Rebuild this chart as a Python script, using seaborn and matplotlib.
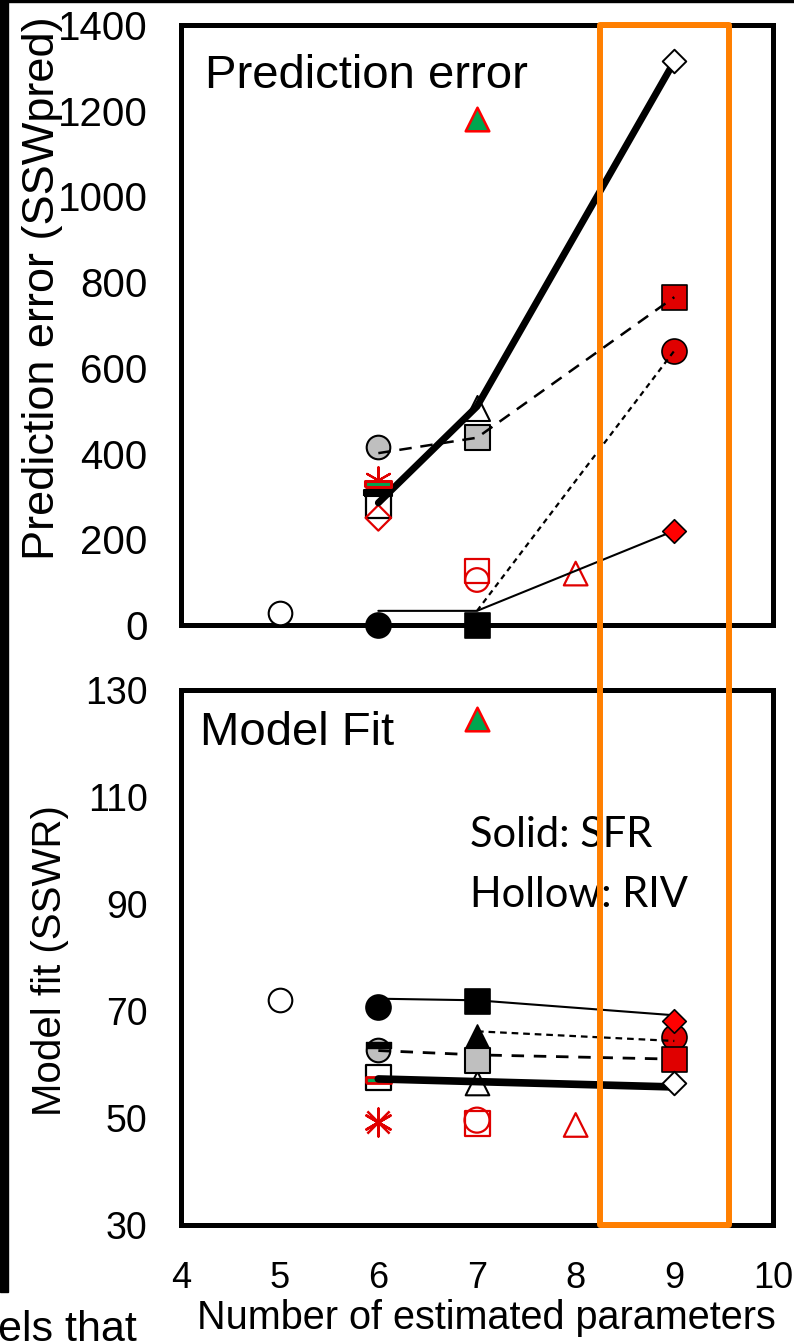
import seaborn as sns
import matplotlib.pyplot as plt
from matplotlib import transforms
from matplotlib.patches import Rectangle

# ---------------- data ----------------
# upper panel: prediction error (SSWpred)
pe_open_circle_x, pe_open_circle_y = [5], [28]
pe_black_circle_x, pe_black_circle_y = [6], [0]
pe_gray_circle_x, pe_gray_circle_y = [6], [415]
pe_red_star_x, pe_red_star_y = [6], [338]
pe_green_bar_x, pe_green_bar_y = [6], [329]
pe_black_bar_x, pe_black_bar_y = [6], [308]
pe_open_square_x, pe_open_square_y = [6], [280]
pe_red_open_diamond_x, pe_red_open_diamond_y = [6], [250]
pe_open_triangle_x, pe_open_triangle_y = [7], [507]
pe_gray_square_x, pe_gray_square_y = [7], [439]
pe_red_open_square_x, pe_red_open_square_y = [7], [126]
pe_red_open_circle_x, pe_red_open_circle_y = [7], [105]
pe_black_square_x, pe_black_square_y = [7], [0]
pe_green_triangle_x, pe_green_triangle_y = [7], [1180]
pe_red_open_triangle_x, pe_red_open_triangle_y = [8], [120]
pe_red_square_x, pe_red_square_y = [9], [765]
pe_red_circle_x, pe_red_circle_y = [9], [640]
pe_red_diamond_x, pe_red_diamond_y = [9], [220]
pe_open_diamond_x, pe_open_diamond_y = [9], [1315]

pe_thick_x, pe_thick_y = [6, 7, 9], [285, 510, 1315]
pe_dash_x, pe_dash_y = [6, 7, 9], [401, 437, 765]
pe_dot_x, pe_dot_y = [7, 9], [33, 640]
pe_thin_x, pe_thin_y = [6, 7, 9], [33, 33, 220]

# lower panel: model fit (SSWR)
mf_open_circle_x, mf_open_circle_y = [5], [72]
mf_black_circle_x, mf_black_circle_y = [6], [70.8]
mf_gray_circle_x, mf_gray_circle_y = [6], [62.7]
mf_black_bar_x, mf_black_bar_y = [6], [63.6]
mf_open_square_x, mf_open_square_y = [6], [57.6]
mf_green_bar_x, mf_green_bar_y = [6], [57.1]
mf_red_cross_x, mf_red_cross_y = [6], [49.2]
mf_black_square_x, mf_black_square_y = [7], [71.8]
mf_black_triangle_x, mf_black_triangle_y = [7], [65.2]
mf_gray_square_x, mf_gray_square_y = [7], [60.9]
mf_open_triangle_x, mf_open_triangle_y = [7], [56.6]
mf_red_open_square_x, mf_red_open_square_y = [7], [49.0]
mf_red_open_circle_x, mf_red_open_circle_y = [7], [49.6]
mf_green_triangle_x, mf_green_triangle_y = [7], [124.5]
mf_red_open_triangle_x, mf_red_open_triangle_y = [8], [48.7]
mf_red_diamond_x, mf_red_diamond_y = [9], [68.2]
mf_red_circle_x, mf_red_circle_y = [9], [65.2]
mf_red_square_x, mf_red_square_y = [9], [61.0]
mf_open_diamond_x, mf_open_diamond_y = [9], [56.5]

mf_thin_x, mf_thin_y = [6, 7, 9], [72.3, 72.0, 69.2]
mf_dash_x, mf_dash_y = [6, 7, 9], [62.6, 61.8, 61.0]
mf_dot_x, mf_dot_y = [7, 9], [66.2, 64.4]
mf_thick_x, mf_thick_y = [6, 9], [57.3, 55.8]

x_ticks = [4, 5, 6, 7, 8, 9, 10]
pe_ticks = [0, 200, 400, 600, 800, 1000, 1200, 1400]
mf_ticks = [30, 50, 70, 90, 110, 130]

# ---------------- style ----------------
sns.set_style("white")
plt.rcParams["font.family"] = ["Liberation Sans", "DejaVu Sans"]
plt.rcParams["text.color"] = "black"
plt.rcParams["axes.labelcolor"] = "black"

RED = "#E00000"
GRAY = "#BFBFBF"
GREEN = "#00A650"
BAR = [(-1, -0.22), (1, -0.22), (1, 0.22), (-1, 0.22), (-1, -0.22)]
STAR6 = (6, 2, 0)


def dots(ax, x, y, marker, size, face, edge, lw=1.2, z=3):
    sns.scatterplot(x=x, y=y, marker=marker, s=size ** 2, color=face,
                    edgecolor=edge, linewidth=lw, zorder=z, clip_on=False,
                    legend=False, ax=ax)


def line(ax, x, y, lw, ls="-", z=4):
    sns.lineplot(x=x, y=y, color="black", linewidth=lw, linestyle=ls,
                 zorder=z, errorbar=None, ax=ax)


fig = plt.figure(figsize=(7.94, 13.42), dpi=100)
ax1 = fig.add_axes([181 / 794, 717 / 1342, 592 / 794, 600 / 1342])
ax2 = fig.add_axes([181 / 794, 117 / 1342, 592 / 794, 535 / 1342])

# upper panel
line(ax1, pe_thick_x, pe_thick_y, 5)
line(ax1, pe_dash_x, pe_dash_y, 1.8, (0, (5, 3.5)))
line(ax1, pe_dot_x, pe_dot_y, 1.6, (0, (2.5, 2)))
line(ax1, pe_thin_x, pe_thin_y, 1.5)

dots(ax1, pe_open_circle_x, pe_open_circle_y, "o", 17, "white", "black", 1.5)
dots(ax1, pe_black_circle_x, pe_black_circle_y, "o", 18, "black", "black")
dots(ax1, pe_gray_circle_x, pe_gray_circle_y, "o", 17, GRAY, "black", 1.5)
dots(ax1, pe_red_star_x, pe_red_star_y, STAR6, 19, RED, RED, 1.6)
dots(ax1, pe_green_bar_x, pe_green_bar_y, BAR, 19, GREEN, RED, 2.2, z=4)
dots(ax1, pe_black_bar_x, pe_black_bar_y, BAR, 20, "black", "black", 1.5, z=4)
dots(ax1, pe_open_square_x, pe_open_square_y, "s", 18, "none", "black", 1.6)
dots(ax1, pe_red_open_diamond_x, pe_red_open_diamond_y, "D", 13, "none", RED, 1.6)
dots(ax1, pe_open_triangle_x, pe_open_triangle_y, "^", 18, "white", "black", 1.5)
dots(ax1, pe_gray_square_x, pe_gray_square_y, "s", 18, GRAY, "black", 1.5)
dots(ax1, pe_red_open_square_x, pe_red_open_square_y, "s", 17, "none", RED, 1.6)
dots(ax1, pe_red_open_circle_x, pe_red_open_circle_y, "o", 17, "none", RED, 1.6)
dots(ax1, pe_black_square_x, pe_black_square_y, "s", 18, "black", "black", z=5)
dots(ax1, pe_green_triangle_x, pe_green_triangle_y, "^", 17, GREEN, "#FF0000", 1.8)
dots(ax1, pe_red_open_triangle_x, pe_red_open_triangle_y, "^", 17, "none", RED, 1.6)
dots(ax1, pe_red_square_x, pe_red_square_y, "s", 18, RED, "black", 1.2)
dots(ax1, pe_red_circle_x, pe_red_circle_y, "o", 18, RED, "black", 1.2)
dots(ax1, pe_red_diamond_x, pe_red_diamond_y, "D", 12, "#FF0000", "black", 1.2, z=5)
dots(ax1, pe_open_diamond_x, pe_open_diamond_y, "D", 12, "white", "black", 1.4, z=5)

# lower panel
line(ax2, mf_thin_x, mf_thin_y, 1.5)
line(ax2, mf_dash_x, mf_dash_y, 2, (0, (4.5, 3.5)))
line(ax2, mf_dot_x, mf_dot_y, 1.6, (0, (3, 2.2)))
line(ax2, mf_thick_x, mf_thick_y, 5.5)

dots(ax2, mf_open_circle_x, mf_open_circle_y, "o", 17, "white", "black", 1.5)
dots(ax2, mf_black_circle_x, mf_black_circle_y, "o", 18, "black", "black")
dots(ax2, mf_gray_circle_x, mf_gray_circle_y, "o", 17, GRAY, "black", 1.5)
dots(ax2, mf_black_bar_x, mf_black_bar_y, BAR, 18, "black", "black", 1, z=4)
dots(ax2, mf_open_square_x, mf_open_square_y, "s", 18, "white", "black", 1.6)
dots(ax2, mf_green_bar_x, mf_green_bar_y, BAR, 18, GREEN, RED, 2, z=3.5)
dots(ax2, mf_red_cross_x, mf_red_cross_y, "x", 16, RED, RED, 1.8)
dots(ax2, mf_red_cross_x, mf_red_cross_y, STAR6, 20, RED, RED, 1.8)
dots(ax2, mf_black_square_x, mf_black_square_y, "s", 18, "black", "black", z=5)
dots(ax2, mf_black_triangle_x, mf_black_triangle_y, "^", 18, "black", "black", z=5)
dots(ax2, mf_gray_square_x, mf_gray_square_y, "s", 18, GRAY, "black", 1.5, z=5)
dots(ax2, mf_open_triangle_x, mf_open_triangle_y, "^", 17, "white", "black", 1.5)
dots(ax2, mf_red_open_square_x, mf_red_open_square_y, "s", 18, "none", RED, 1.6)
dots(ax2, mf_red_open_circle_x, mf_red_open_circle_y, "o", 18, "none", RED, 1.6)
dots(ax2, mf_green_triangle_x, mf_green_triangle_y, "^", 17, GREEN, "#FF0000", 1.8)
dots(ax2, mf_red_open_triangle_x, mf_red_open_triangle_y, "^", 17, "none", RED, 1.6)
dots(ax2, mf_red_circle_x, mf_red_circle_y, "o", 18, RED, "black", 1.2)
dots(ax2, mf_red_square_x, mf_red_square_y, "s", 18, RED, "black", 1.2, z=5)
dots(ax2, mf_red_diamond_x, mf_red_diamond_y, "D", 12, "#FF0000", "black", 1.2, z=5)
dots(ax2, mf_open_diamond_x, mf_open_diamond_y, "D", 12, "white", "black", 1.4, z=5)

# axes cosmetics
for ax, ticks, lab in [(ax1, pe_ticks, 29), (ax2, mf_ticks, 27)]:
    ax.set_xlim(4, 10)
    ax.set_ylim(ticks[0], ticks[-1])
    ax.set_xticks(x_ticks)
    ax.set_yticks(ticks)
    ax.set_xlabel("")
    ax.set_ylabel("")
    for s in ax.spines.values():
        s.set_linewidth(3.6)
        s.set_color("black")
    ax.tick_params(direction="in", length=6, width=1, color="#808080",
                   labelsize=lab, pad=24, labelcolor="black")
    ax.tick_params(axis="x", labelsize=26, pad=26)
ax1.tick_params(axis="x", labelbottom=False)

ax1.text(0.04, 0.895, "Prediction error", transform=ax1.transAxes,
         fontsize=34, va="baseline", ha="left")
ax2.text(0.032, 0.897, "Model Fit", transform=ax2.transAxes,
         fontsize=34, va="baseline", ha="left")
ax2.text(0.488, 0.7065, "Solid: SFR", transform=ax2.transAxes, fontsize=30,
         family=["Lato", "DejaVu Sans"], va="baseline", ha="left")
ax2.text(0.488, 0.594, "Hollow: RIV", transform=ax2.transAxes, fontsize=30,
         family=["Lato", "DejaVu Sans"], va="baseline", ha="left")

fig.text(0.053, 0.785, "Prediction error (SSWpred)", rotation=90,
         fontsize=32.5, ha="center", va="center")
fig.text(0.063, 0.2846, "Model fit (SSWR)", rotation=90,
         fontsize=29, ha="center", va="center")
fig.text(0.613, 1 - 1299 / 1342, "Number of estimated parameters",
         fontsize=28.5, ha="center", va="top")
fig.text(-0.003, 1 / 1342, "els that", fontsize=31, ha="left", va="baseline")

# highlight box across both panels
blend = transforms.blended_transform_factory(ax2.transData, fig.transFigure)
fig.add_artist(Rectangle((8.25, 117 / 1342), 1.3, 1200 / 1342, transform=blend,
                         fill=False, edgecolor="#FF7F00", linewidth=4.3,
                         joinstyle="round", zorder=10, clip_on=False))

# slide edges cropped into the picture
fig.add_artist(Rectangle((0, 1 - 1292 / 1342), 8 / 794, 1292 / 1342,
                         transform=fig.transFigure, color="black", zorder=10))
fig.add_artist(Rectangle((0, 1 - 2 / 1342), 1, 2 / 1342,
                         transform=fig.transFigure, color="black", zorder=10))

fig.savefig("out.png", dpi=100)
